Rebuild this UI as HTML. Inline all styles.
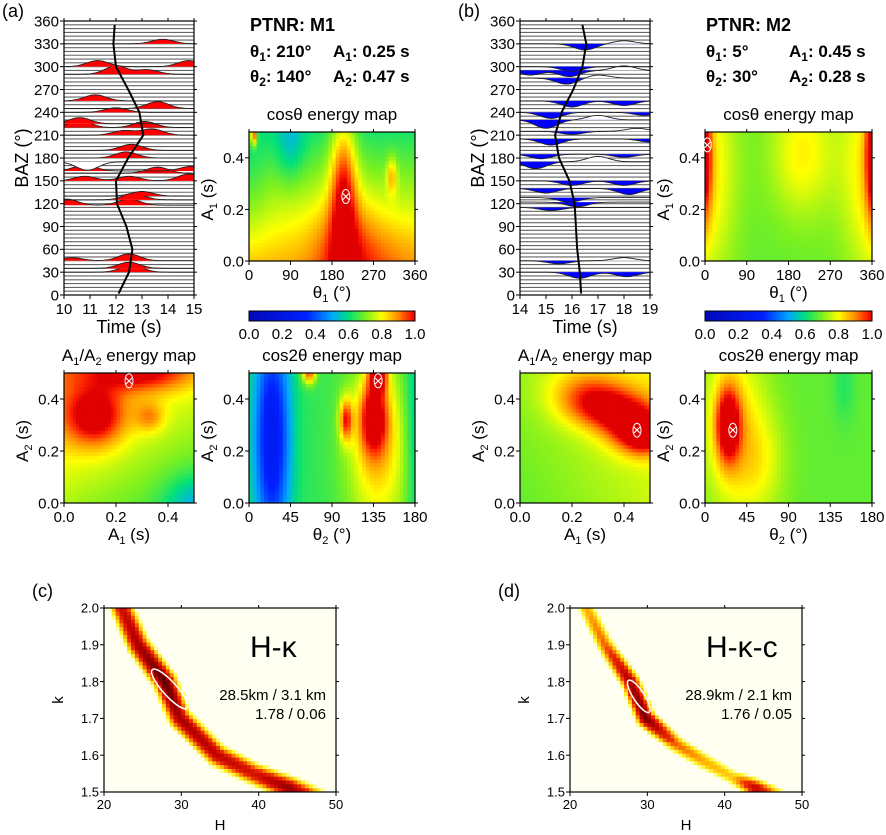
<!DOCTYPE html>
<html><head><meta charset="utf-8">
<style>
html,body{margin:0;padding:0;background:#fff;}
svg{display:block;font-family:"Liberation Sans",Arial,sans-serif;}
</style></head>
<body>
<svg id="fig" width="886" height="835" viewBox="0 0 886 835" xmlns="http://www.w3.org/2000/svg"></svg>
<script>
// ---------- DATA ----------
const bazTicks=[0,30,60,90,120,150,180,210,240,270,300,330,360];
const timeTicksA=[10,11,12,13,14,15];
const timeTicksB=[14,15,16,17,18,19];
const thetaTicks=[0,90,180,270,360];
const theta2Ticks=[0,45,90,135,180];
const aTicks=[0.0,0.2,0.4];
const cbTicks=[0.0,0.2,0.4,0.6,0.8,1.0];
const hTicks=[20,30,40,50];
const kTicks=[1.5,1.6,1.7,1.8,1.9,2.0];
// moveout curves (BAZ, time)
const curveBazA=[2,30,60,90,120,150,180,210,240,270,300,330,355];
const curveTA=[12.1,12.5,12.63,12.4,12.04,12.0,12.47,13.05,12.9,12.47,12.0,11.9,11.95];
const curveBazB=[2,30,60,90,120,150,180,210,240,270,300,330,355];
const curveTB=[16.35,16.3,16.2,16.15,16.1,15.9,15.5,15.35,15.6,16.05,16.4,16.55,16.4];
// waveform pulses (trace BAZ, pulse time, amplitude in deg)
const pulseBazA=[30,35,45,45,118,118,125,130,150,150,150,160,163,163,175,180,190,210,210,220,220,225,240,245,255,290,290,300,300,330];
const pulseTA=[12.6,12.5,12.5,10.3,10.1,12.5,12.7,13.0,14.8,12.5,10.8,13.6,10.8,14.9,10.9,12.4,12.6,12.3,13.4,10.6,13.1,10.6,12.0,13.6,11.2,12.0,13.2,14.8,11.3,13.8];
const pulseAA=[9,8,9,4,8,8,8,6,9,6,6,8,8,6,-11,8,8,6,8,9,8,8,6,9,8,11,6,8,8,6];
const pulseBazB=[30,30,45,45,115,122,128,140,140,150,150,175,175,185,185,205,205,215,215,230,230,240,240,255,255,285,285,295,295,295,300,330,330];
const pulseTB=[16.3,18.1,15.5,18,15.2,16.2,15.9,15,18.2,16,18,14.6,17,14.8,18,15.2,19,16,18.5,15,17,15.2,18.8,16,18,15.8,17,14.4,15.9,18,16,16.5,18];
const pulseAB=[-8,-6,-4,4,-4,-6,-6,-6,-8,-6,-6,-9,7,-6,-4,-8,-4,-4,4,-11,6,-8,-4,-8,-6,-8,4,-6,-8,6,-6,-8,4];
// energy map blobs
const aCosBase=[0.86,0.0,-0.24];
const aCosBx=[210,205,310,90,10,300,0];
const aCosBy=[0.05,0.3,0.33,0.45,0.49,0.0,0.3];
const aCosBa=[0.14,0.26,0.16,-0.1,0.35,0.04,-0.05];
const aCosSx=[50,20,8,22,5,60,30];
const aCosSy=[0.15,0.2,0.05,0.1,0.03,0.12,0.2];
const aA12Base=[0.74,-0.1,0.16];
const aA12Bx=[0.12,0.33,0.3,0.5];
const aA12By=[0.33,0.33,0.5,0.0];
const aA12Ba=[0.25,0.12,0.2,-0.12];
const aA12Sx=[0.08,0.04,0.14,0.08];
const aA12Sy=[0.08,0.04,0.05,0.08];
const aC2Base=[0.64,0.0,0.0];
const aC2Bx=[25,135,105,65,140,140,180];
const aC2By=[0.25,0.33,0.32,0.5,0.5,0.2,0.3];
const aC2Ba=[-0.36,0.3,0.28,0.3,0.35,0.2,-0.1];
const aC2Sx=[14,11,5,5,7,25,8];
const aC2Sy=[0.3,0.1,0.06,0.03,0.05,0.25,0.3];
const bCosBase=[0.68,0.0,0.0];
const bCosBx=[0,360,0,360,210];
const bCosBy=[0.35,0.35,0.42,0.42,0.42];
const bCosBa=[0.16,0.16,0.25,0.25,0.13];
const bCosSx=[45,45,10,10,50];
const bCosSy=[0.3,0.3,0.18,0.18,0.18];
const bA12Base=[0.68,0.08,0.04];
const bA12Bx=[0.25,0.35,0.45,0.48];
const bA12By=[0.42,0.36,0.28,0.25];
const bA12Ba=[0.15,0.22,0.27,0.12];
const bA12Sx=[0.1,0.1,0.08,0.05];
const bA12Sy=[0.07,0.06,0.06,0.05];
const bC2Base=[0.68,0.0,0.0];
const bC2Bx=[25,30,60,150];
const bC2By=[0.3,0.3,0.15,0.45];
const bC2Ba=[0.32,0.15,0.08,-0.05];
const bC2Sx=[9,25,20,8];
const bC2Sy=[0.1,0.25,0.15,0.1];
// H-k ridges
const ridgeHC=[22.3,24.4,27.9,29.8,34.6,39.3,44.0,48];
const ridgeKC=[2.0,1.9,1.8,1.7,1.6,1.55,1.51,1.48];
const ridgeIC=[0.75,0.85,1.0,0.85,0.8,0.72,0.9,0.5];
const ridgeHD=[22.1,24.5,27.8,29.8,33.7,37.6,41,44,47];
const ridgeKD=[2.0,1.9,1.8,1.7,1.63,1.58,1.54,1.51,1.49];
const ridgeID=[0.45,0.55,0.85,0.95,0.55,0.45,0.4,0.8,0.4];
const bestC=[28.5,1.78], bestD=[28.9,1.76];

// ---------- HELPERS ----------
const NS="http://www.w3.org/2000/svg";
const fig=document.getElementById('fig');
function el(tag,attrs,parent){const e=document.createElementNS(NS,tag);for(const k in attrs)e.setAttribute(k,attrs[k]);(parent||fig).appendChild(e);return e;}
function lin(d0,d1,r0,r1){return v=>r0+(v-d0)/(d1-d0)*(r1-r0);}
function hex(c){return [parseInt(c.slice(1,3),16),parseInt(c.slice(3,5),16),parseInt(c.slice(5,7),16)];}
function cmapFn(stops){const s=stops.map(p=>[p[0],hex(p[1])]);return v=>{v=Math.max(0,Math.min(1,v));for(let i=1;i<s.length;i++){if(v<=s[i][0]){const t=(v-s[i-1][0])/(s[i][0]-s[i-1][0]);const c=s[i-1][1].map((a,j)=>Math.round(a+(s[i][1][j]-a)*t));return `rgb(${c})`;}}return `rgb(${s[s.length-1][1]})`;};}
const jet=cmapFn([[0,'#0008b8'],[0.35,'#0020ff'],[0.5,'#00a8ff'],[0.6,'#00e07a'],[0.7,'#7af020'],[0.8,'#ffff00'],[0.9,'#ff8a00'],[0.97,'#ff2000'],[1,'#e00000']]);
const hot=cmapFn([[0,'#fffff2'],[0.2,'#fffff0'],[0.3,'#ffff30'],[0.45,'#ffb000'],[0.6,'#f03000'],[0.8,'#c00000'],[1,'#5a0000']]);
function text(x,y,html,opts,parent){const t=el('text',Object.assign({x:x,y:y,'font-size':14,fill:'#000'},opts||{}),parent);t.innerHTML=html;return t;}
function blobVal(base,bx,by,ba,sx,sy,xr,yr){return (x,y)=>{let v=base[0]+base[1]*(x-xr[0])/(xr[1]-xr[0])+base[2]*(y-yr[0])/(yr[1]-yr[0]);for(let i=0;i<bx.length;i++){const dx=(x-bx[i])/sx[i],dy=(y-by[i])/sy[i];v+=ba[i]*Math.exp(-(dx*dx+dy*dy)/2);}return v;};}
function heat(g,x0,y0,w,h,nx,ny,xr,yr,fn,cmap){const cw=w/nx,ch=h/ny;for(let i=0;i<nx;i++)for(let j=0;j<ny;j++){const x=xr[0]+(i+0.5)/nx*(xr[1]-xr[0]);const y=yr[1]-(j+0.5)/ny*(yr[1]-yr[0]);const r=el('rect',{x:(x0+i*cw).toFixed(2),y:(y0+j*ch).toFixed(2),width:(cw+0.4).toFixed(2),height:(ch+0.4).toFixed(2),fill:cmap(fn(x,y))},g);

}}
function frame(g,x0,y0,w,h,xt,xs,xl,yt,ys,yl,fs){
 el('rect',{x:x0,y:y0,width:w,height:h,fill:'none',stroke:'#000','stroke-width':1.2},g);
 xt.forEach((v,i)=>{const x=xs(v);el('line',{x1:x,x2:x,y1:y0+h,y2:y0+h+4,stroke:'#000'},g);el('line',{x1:x,x2:x,y1:y0,y2:y0-3,stroke:'#000'},g);
  const t=text(x,y0+h+fs+4,xl[i],{'text-anchor':'middle','font-size':fs},g);
  
  });
 yt.forEach((v,i)=>{const y=ys(v);el('line',{x1:x0-4,x2:x0,y1:y,y2:y,stroke:'#000'},g);el('line',{x1:x0+w,x2:x0+w+3,y1:y,y2:y,stroke:'#000'},g);
  const t=text(x0-5,y+fs*0.36,yl[i],{'text-anchor':'end','font-size':fs},g);
  
  });
}
function group(name){const g=el('g',{});return g;}

// ---------- WAVEFORM PANELS ----------
function waveform(name,x0,tr,curveB,curveT,pB,pT,pA,color,sign){
 const g=group(name);const y0=21,w=130,h=274;
 const xs=lin(tr[0],tr[1],x0,x0+w), ys=lin(0,360,y0+h,y0);
 for(let b=0;b<=360;b+=5){const l=el('line',{x1:x0,x2:x0+w,y1:ys(b),y2:ys(b),stroke:'#666','stroke-width':1.1},g);
  
  }
 const bazs=[...new Set(pB)];
 bazs.forEach(b=>{const pts=[];for(let k=0;k<=80;k++){const t=tr[0]+k/80*(tr[1]-tr[0]);let a=0;for(let i=0;i<pB.length;i++)if(pB[i]===b){const d=(t-pT[i])/0.42;a+=pA[i]*Math.exp(-d*d/2);}pts.push([xs(t),ys(b+a),a]);}
  let fill='M'+xs(tr[0])+','+ys(b);pts.forEach(p=>{const a=sign*p[2]>0?p[1]:ys(b);fill+='L'+p[0].toFixed(1)+','+a.toFixed(1);});fill+='L'+xs(tr[1])+','+ys(b)+'Z';
  const bg=el('path',{d:'M'+pts.map(p=>p[0].toFixed(1)+','+p[1].toFixed(1)).join('L')+'L'+xs(tr[1])+','+ys(b)+'L'+xs(tr[0])+','+ys(b)+'Z',fill:'#fff',stroke:'none'},g);
  
  
  const f=el('path',{d:fill,fill:color,stroke:'none'},g);
  
  
  const ln=el('path',{d:'M'+pts.map(p=>p[0].toFixed(1)+','+p[1].toFixed(1)).join('L'),fill:'none',stroke:'#222','stroke-width':0.9},g);
  
  });
 const c=el('path',{d:'M'+curveB.map((b,i)=>xs(curveT[i]).toFixed(1)+','+ys(b).toFixed(1)).join('L'),fill:'none',stroke:'#000','stroke-width':2,'stroke-linejoin':'round'},g);
 
 
 const tt=tr[0]===10?timeTicksA:timeTicksB;
 frame(g,x0,y0,w,h,tt,xs,tt.map(String),bazTicks,ys,bazTicks.map(String),15);
 const xl=text(x0+w/2,333,'Time (s)',{'text-anchor':'middle','font-size':18},g);
 
 
 const yl=text(0,0,'BAZ (°)',{'text-anchor':'middle','font-size':18,transform:`translate(${x0-36},158) rotate(-90)`},g);
 
 
}
waveform('waveform-panel-a',64,[10,15],curveBazA,curveTA,pulseBazA,pulseTA,pulseAA,'#ff0000',1);
waveform('waveform-panel-b',520,[14,19],curveBazB,curveTB,pulseBazB,pulseTB,pulseAB,'#0000ff',-1);

// ---------- ENERGY MAPS ----------
function emap(name,x0,y0,w,h,xr,xt,xtl,fn,xlab,ylab,title,best){
 const g=group(name);const xs=lin(xr[0],xr[1],x0,x0+w),ys=lin(0,0.5,y0+h,y0);
 heat(g,x0,y0,w,h,44,36,xr,[0,0.5],fn,jet);
 frame(g,x0,y0,w,h,xt,xs,xtl,[0,0.2,0.4],ys,['0.0','0.2','0.4'],15);
 const ct=el('ellipse',{cx:xs(best[0]),cy:ys(best[1]),rx:4,ry:7,fill:'none',stroke:'#fff','stroke-width':1},g);
 
 
 const mk=text(xs(best[0]),ys(best[1])+5,'×',{'text-anchor':'middle','font-size':15,fill:'#fff'},g);
 
 
 const t1=text(x0+w/2,y0+h+37,xlab,{'text-anchor':'middle','font-size':17},g);
 
 
 const t2=text(0,0,ylab,{'text-anchor':'middle','font-size':17,transform:`translate(${x0-36},${y0+h/2+3}) rotate(-90)`},g);
 
 
 const t3=text(x0+w/2,y0-12,title,{'text-anchor':'middle','font-size':17},g);
 
 
}
const thX='θ<tspan dy="4" font-size="11">1</tspan><tspan dy="-4"> (°)</tspan>';
const th2X='θ<tspan dy="4" font-size="11">2</tspan><tspan dy="-4"> (°)</tspan>';
const a1X='A<tspan dy="4" font-size="11">1</tspan><tspan dy="-4"> (s)</tspan>';
const a2X='A<tspan dy="4" font-size="11">2</tspan><tspan dy="-4"> (s)</tspan>';
const a1a2T='A<tspan dy="4" font-size="11">1</tspan><tspan dy="-4">/A</tspan><tspan dy="4" font-size="11">2</tspan><tspan dy="-4"> energy map</tspan>';
const aTl=aTicks.map(v=>v.toFixed(1));
emap('cos-map-a',249,132,166,129,[0,360],thetaTicks,thetaTicks.map(String),blobVal(aCosBase,aCosBx,aCosBy,aCosBa,aCosSx,aCosSy,[0,360],[0,0.5]),thX,a1X,'cosθ energy map',[210,0.25]);
emap('a1a2-map-a',64,373,130,130,[0,0.5],aTicks,aTl,blobVal(aA12Base,aA12Bx,aA12By,aA12Ba,aA12Sx,aA12Sy,[0,0.5],[0,0.5]),a1X,a2X,a1a2T,[0.25,0.47]);
emap('cos2-map-a',249,373,166,130,[0,180],theta2Ticks,theta2Ticks.map(String),blobVal(aC2Base,aC2Bx,aC2By,aC2Ba,aC2Sx,aC2Sy,[0,180],[0,0.5]),th2X,a2X,'cos2θ energy map',[140,0.47]);
emap('cos-map-b',705,132,167,129,[0,360],thetaTicks,thetaTicks.map(String),blobVal(bCosBase,bCosBx,bCosBy,bCosBa,bCosSx,bCosSy,[0,360],[0,0.5]),thX,a1X,'cosθ energy map',[5,0.45]);
emap('a1a2-map-b',520,373,130,130,[0,0.5],aTicks,aTl,blobVal(bA12Base,bA12Bx,bA12By,bA12Ba,bA12Sx,bA12Sy,[0,0.5],[0,0.5]),a1X,a2X,a1a2T,[0.45,0.28]);
emap('cos2-map-b',705,373,167,130,[0,180],theta2Ticks,theta2Ticks.map(String),blobVal(bC2Base,bC2Bx,bC2By,bC2Ba,bC2Sx,bC2Sy,[0,180],[0,0.5]),th2X,a2X,'cos2θ energy map',[30,0.28]);

// colorbars
[[249,166,'colorbar-a'],[705,167,'colorbar-b']].forEach(([x0,w,n])=>{const g=group(n);
 for(let i=0;i<100;i++){const r=el('rect',{x:x0+i*w/100,y:311,width:w/100+0.4,height:10,fill:jet((i+0.5)/100)},g);
  
  }
 el('rect',{x:x0,y:311,width:w,height:10,fill:'none',stroke:'#000'},g);
 const xs=lin(0,1,x0,x0+w);
 cbTicks.forEach(v=>{const t=text(xs(v),339,v.toFixed(1),{'text-anchor':'middle','font-size':15},g);
  
  });});

// parameter text
function params(x,name,mname,t1,a1,t2,a2,dx){const g=group(name);
 const o={'font-size':17,'font-weight':'bold'};
 const h=text(x,31,'PTNR: '+mname,Object.assign({},o,{'font-size':18}),g);
 
 
 const r=[[`θ<tspan dy="4" font-size="12">1</tspan><tspan dy="-4">: ${t1}°</tspan>`,`A<tspan dy="4" font-size="12">1</tspan><tspan dy="-4">: ${a1} s</tspan>`,57],[`θ<tspan dy="4" font-size="12">2</tspan><tspan dy="-4">: ${t2}°</tspan>`,`A<tspan dy="4" font-size="12">2</tspan><tspan dy="-4">: ${a2} s</tspan>`,82]];
 r.forEach(([a,b,y])=>{const p=text(x,y,a,o,g);
  
  
  const q=text(x+dx,y,b,o,g);
  
  });}
params(250,'params-a','M1',210,'0.25',140,'0.47',83);
params(706,'params-b','M2',5,'0.45',30,'0.28',83);

[[2,17,'(a)'],[458,17,'(b)'],[32,597,'(c)'],[498,597,'(d)']].forEach(([x,y,s])=>{const t=text(x,y,s,{'font-size':18});
 
 });

// ---------- H-k PANELS ----------
function hk(name,x0,rH,rK,rI,wpx,best,rx,ry,rot,label,l1,l2,tx){
 const g=group(name);const y0=608,w=232,h=184;
 const xs=lin(20,50,x0,x0+w),ys=lin(1.5,2.0,y0+h,y0);
 const fn=(H,k)=>{const px=xs(H),py=ys(k);let best=0;for(let i=0;i<rH.length-1;i++){const ax=xs(rH[i]),ay=ys(rK[i]),bx=xs(rH[i+1]),by=ys(rK[i+1]);const dx=bx-ax,dy=by-ay;let t=((px-ax)*dx+(py-ay)*dy)/(dx*dx+dy*dy);t=Math.max(0,Math.min(1,t));const qx=ax+t*dx,qy=ay+t*dy;const d=Math.hypot(px-qx,py-qy);const I=rI[i]+(rI[i+1]-rI[i])*t;const v=I*Math.exp(-(d/wpx)*(d/wpx));if(v>best)best=v;}return best;};
 heat(g,x0,y0,w,h,60,48,[20,50],[1.5,2.0],fn,hot);
 frame(g,x0,y0,w,h,hTicks,xs,hTicks.map(String),kTicks,ys,kTicks.map(v=>v.toFixed(1)),13);
 const e=el('ellipse',{cx:xs(best[0]),cy:ys(best[1]),rx:rx,ry:ry,fill:'none',stroke:'#fff','stroke-width':1.5,transform:`rotate(${rot} ${xs(best[0])} ${ys(best[1])})`},g);
 
 
 const a=text(tx,657,label,{'font-size':30},g);
 
 
 const b=text(x0+222,700,l1,{'font-size':15,'text-anchor':'end'},g);
 
 
 const c=text(x0+222,719,l2,{'font-size':15,'text-anchor':'end'},g);
 
 
 const hx=text(x0+w/2,830,'H',{'font-size':15,'text-anchor':'middle'},g);
 
 
 const ky=text(0,0,'k',{'font-size':15,'text-anchor':'middle',transform:`translate(${x0-41},${y0+h/2}) rotate(-90)`},g);
 
 
}
hk('hk-panel-c',104,ridgeHC,ridgeKC,ridgeIC,11,bestC,26,7,48,'H-κ','28.5km / 3.1 km','1.78 / 0.06',250);
hk('hk-panel-d',570,ridgeHD,ridgeKD,ridgeID,9,bestD,19,5.5,57,'H-κ-c','28.9km / 2.1 km','1.76 / 0.05',706);
</script>
</body></html>
